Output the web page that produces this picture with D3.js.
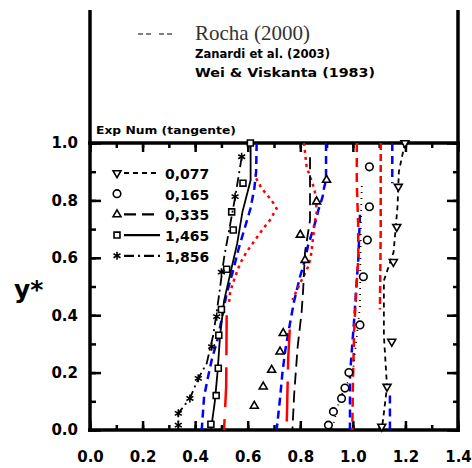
<!DOCTYPE html>
<html>
<head>
<meta charset="utf-8">
<script src="https://cdn.jsdelivr.net/npm/d3@7"></script>
<style>
body { margin: 0; background: #fff; }
text { font-family: "DejaVu Sans", sans-serif; font-weight: bold; }
</style>
</head>
<body>
<script>
// tick labels
const xTicks = [0, 0.2, 0.4, 0.6, 0.8, 1.0, 1.2, 1.4];
const yTicks = [0, 0.2, 0.4, 0.6, 0.8, 1.0];

// blue dashed profiles
const blueA = [[0.634,1.0],[0.632,0.9],[0.625,0.84],[0.61,0.77],[0.59,0.708],[0.564,0.627],[0.545,0.557],[0.52,0.476],[0.488,0.325],[0.463,0.244],[0.448,0.18],[0.434,0.116],[0.425,0.0]];
const blueB = [[0.898,1.0],[0.898,0.871],[0.89,0.842],[0.885,0.813],[0.869,0.767],[0.861,0.737],[0.846,0.69],[0.83,0.645],[0.818,0.592],[0.799,0.534],[0.79,0.5],[0.776,0.447],[0.761,0.372],[0.742,0.273],[0.732,0.198],[0.723,0.11],[0.71,0.0]];
const blueC = [[1.027,0.75],[1.021,0.6],[1.012,0.48],[1.006,0.397],[0.998,0.3],[0.989,0.19],[0.989,0.0]];
const blueD = [[1.15,1.0],[1.15,0.86],null,[1.141,0.12],[1.141,0.0]];

// red profiles (dotted top part, long dash lower part)
const redAtop = [[0.632,0.877],[0.653,0.842],[0.691,0.80],[0.71,0.772],[0.685,0.732],[0.66,0.703],[0.628,0.662],[0.596,0.621],[0.571,0.58],[0.552,0.534],[0.533,0.48],[0.529,0.44]];
const redAlow = [[0.52,0.40],[0.518,0.15],[0.51,0.0]];
const redBtop = [[0.814,1.0],[0.824,0.917],[0.837,0.883],[0.853,0.842],[0.86,0.807],[0.862,0.755],[0.853,0.714],[0.85,0.679],[0.84,0.604],[0.83,0.569],[0.799,0.511],[0.77,0.453]];
const redBlow = [[0.76,0.35],[0.754,0.25],[0.748,0.0]];
const redC = [[1.015,1.0],[1.015,0.86],[1.02,0.72],[1.021,0.6],[1.015,0.52],[1.005,0.35],[1.0,0.15],[0.998,0.0]];
const redD = [[1.106,1.0],[1.106,0.7],[1.103,0.42]];

// black series, lines and markers
const s1Line = [[1.198,1.0],[1.175,0.9],[1.17,0.78],[1.155,0.62],[1.118,0.52],[1.118,0.33],[1.13,0.15],[1.11,0.0]];
const s1Pts = [[1.198,1.0],[1.173,0.848],[1.167,0.708],[1.154,0.586],[1.148,0.308],[1.13,0.151],[1.11,0.012]];
const s2Line = [[1.034,0.85],[1.03,0.7],[1.027,0.43],[1.0,0.2],[0.97,0.145],[0.951,0.11],[0.92,0.0]];
const s2Pts = [[1.063,0.917],[1.063,0.778],[1.055,0.662],[1.04,0.534],[1.027,0.366],[0.985,0.2],[0.97,0.146],[0.957,0.11],[0.926,0.064],[0.907,0.017]];
const s3Line = [[0.837,0.95],[0.837,0.73],[0.818,0.62],[0.811,0.49],[0.805,0.41],[0.79,0.29],[0.777,0.128],[0.77,0.0]];
const s3Pts = [[0.9,0.871],[0.862,0.796],[0.80,0.68],[0.818,0.592],[0.735,0.337],[0.723,0.273],[0.691,0.209],[0.659,0.151],[0.625,0.084]];
const s4Line = [[0.611,1.0],[0.611,0.87],[0.58,0.76],[0.56,0.65],[0.535,0.55],[0.51,0.45],[0.495,0.33],[0.485,0.2],[0.475,0.1],[0.46,0.0]];
const s4Pts = [[0.61,1.0],[0.582,0.86],[0.539,0.76],[0.545,0.697],[0.52,0.56],[0.5,0.42],[0.49,0.33],[0.488,0.215],[0.48,0.12],[0.46,0.02]];
const s5Line = [[0.577,0.95],[0.552,0.81],[0.53,0.7],[0.51,0.6],[0.488,0.45],[0.469,0.331],[0.444,0.232],[0.412,0.18],[0.38,0.11],[0.336,0.058],[0.336,0.0]];
const s5Pts = [[0.577,0.952],[0.552,0.813],[0.5,0.55],[0.482,0.395],[0.463,0.29],[0.412,0.18],[0.38,0.11],[0.336,0.058],[0.336,0.017]];

// legend
const legendVals = ["0,077", "0,165", "0,335", "1,465", "1,856"];
const refNames = ["Rocha (2000)", "Zanardi et al. (2003)", "Wei & Viskanta (1983)"];

const width = 472, height = 468;

const svg = d3.select("body")
.append("svg")
.attr("width", width)
.attr("height", height);

const x = d3.scaleLinear().domain([0, 1.4]).range([90, 458]);
const y = d3.scaleLinear().domain([0, 1]).range([430, 143]);

const line = d3.line()
.defined(d => d != null)
.x(d => x(d[0]))
.y(d => y(d[1]));

///axes
const minorX = d3.range(0, 15).map(i => i / 10);
const minorY = d3.range(0, 11).map(i => i / 10);

svg.append("g")
.attr("transform", `translate(0,${y(0)})`)
.call(d3.axisBottom(x).tickValues(minorX).tickSize(-5).tickFormat(""));
svg.append("g")
.attr("class", "xax")
.attr("transform", `translate(0,${y(0)})`)
.call(d3.axisBottom(x).tickValues(xTicks).tickSize(-9).tickPadding(21).tickFormat(d3.format(".1f")));
svg.append("g")
.attr("transform", `translate(0,${y(1)})`)
.call(d3.axisBottom(x).tickValues(minorX).tickSize(5).tickFormat(""));
svg.append("g")
.attr("transform", `translate(0,${y(1)})`)
.call(d3.axisBottom(x).tickValues(xTicks).tickSize(9).tickFormat(""));
svg.append("g")
.attr("transform", `translate(${x(0)},0)`)
.call(d3.axisRight(y).tickValues(minorY).tickSize(6).tickFormat(""));
svg.append("g")
.attr("class", "yax")
.attr("transform", `translate(${x(0)},0)`)
.call(d3.axisLeft(y).tickValues(yTicks).tickSize(-11).tickPadding(12).tickFormat(d3.format(".1f")));
svg.append("g")
.attr("transform", `translate(${x(1.4)},0)`)
.call(d3.axisLeft(y).tickValues(minorY).tickSize(5).tickFormat(""));
svg.append("g")
.attr("transform", `translate(${x(1.4)},0)`)
.call(d3.axisLeft(y).tickValues(yTicks).tickSize(11).tickFormat(""));

svg.selectAll(".domain").remove();
svg.selectAll(".tick line").attr("stroke", "#000").attr("stroke-width", 2.5);
svg.selectAll(".xax text, .yax text")
.attr("fill", "#000")
.style("font-size", "15px")
.style("font-family", "DejaVu Sans")
.style("font-weight", "bold");

// frame: sides run up past 1.0 to hold the legend
const frame = svg.append("g").attr("stroke", "#000").attr("stroke-width", 3.5);
frame.append("line").attr("x1", x(0)).attr("x2", x(0)).attr("y1", 10).attr("y2", y(0) + 2);
frame.append("line").attr("x1", x(1.4)).attr("x2", x(1.4)).attr("y1", 10).attr("y2", y(0) + 2);
frame.append("line").attr("x1", x(0) - 2).attr("x2", x(1.4) + 2).attr("y1", y(0)).attr("y2", y(0));
frame.append("line").attr("x1", x(0) - 2).attr("x2", x(1.4) + 2).attr("y1", y(1)).attr("y2", y(1));

svg.append("text")
.attr("x", 14)
.attr("y", 298)
.style("font-size", "25px")
.text("y*");

///model curves
const curves = [
  {d: blueA, c: "#0000ff", dash: "8,5", w: 2.5},
  {d: blueB, c: "#0000ff", dash: "8,5", w: 2.5},
  {d: blueC, c: "#0000ff", dash: "8,5", w: 2.5},
  {d: blueD, c: "#0000ff", dash: "8,5", w: 2.5},
  {d: redAtop, c: "#ff0000", dash: "3,4", w: 2.5},
  {d: redAlow, c: "#ff0000", dash: "40,12", w: 2.5},
  {d: redBtop, c: "#ff0000", dash: "3,4", w: 2.5},
  {d: redBlow, c: "#ff0000", dash: "40,12", w: 2.5},
  {d: redC, c: "#ff0000", dash: "9,6", w: 2.5},
  {d: redD, c: "#ff0000", dash: "7,4", w: 2.5}
];

svg.selectAll("path.curve")
.data(curves)
.enter()
.append("path")
.attr("class", "curve")
.attr("d", c => line(c.d))
.attr("fill", "none")
.attr("stroke", c => c.c)
.attr("stroke-width", c => c.w)
.attr("stroke-dasharray", c => c.dash);

///black series
const sym = d3.symbolAsterisk || d3.symbolCross;
const series = [
  {line: s1Line, pts: s1Pts, dash: "5,4", shape: d3.symbolTriangle2, rot: 180},
  {line: s2Line, pts: s2Pts, dash: "1,5", shape: d3.symbolCircle, rot: 0},
  {line: s3Line, pts: s3Pts, dash: "12,6", shape: d3.symbolTriangle2, rot: 0},
  {line: s4Line, pts: s4Pts, dash: null, shape: d3.symbolSquare2, rot: 0},
  {line: s5Line, pts: s5Pts, dash: "10,4,2,4", shape: sym, rot: 0}
];

series.forEach(s => {
  svg.append("path")
  .attr("d", line(s.line))
  .attr("fill", "none")
  .attr("stroke", "#000")
  .attr("stroke-width", 1.8)
  .attr("stroke-dasharray", s.dash);

  svg.selectAll(null)
  .data(s.pts)
  .enter()
  .append("path")
  .attr("d", d3.symbol().type(s.shape).size(45))
  .attr("transform", d => `translate(${x(d[0])},${y(d[1])}) rotate(${s.rot})`)
  .attr("fill", "#fff")
  .attr("stroke", "#000")
  .attr("stroke-width", 1.6);
});

///legend
svg.append("line")
.attr("x1", 138).attr("x2", 174)
.attr("y1", 34).attr("y2", 34)
.attr("stroke", "#555")
.attr("stroke-width", 1.5)
.attr("stroke-dasharray", "5,3,5,8");

svg.append("text")
.attr("x", 195)
.attr("y", 40)
.style("font-family", "Liberation Serif")
.style("font-weight", "normal")
.style("font-size", "21px")
.attr("fill", "#333")
.text(refNames[0]);

svg.selectAll("text.ref")
.data(refNames.slice(1))
.enter()
.append("text")
.attr("class", "ref")
.attr("x", 195)
.attr("y", (d, i) => 58 + i * 19)
.attr("textLength", (d, i) => i ? 180 : 135)
.attr("lengthAdjust", "spacingAndGlyphs")
.style("font-size", "12px")
.text(d => d);

svg.append("text")
.attr("x", 96)
.attr("y", 134)
.attr("textLength", 140)
.attr("lengthAdjust", "spacingAndGlyphs")
.style("font-size", "10px")
.text("Exp Num (tangente)");

legendVals.forEach((v, i) => {
  const ly = 173 + i * 20.7;
  const s = series[i];
  svg.append("path")
  .attr("d", d3.symbol().type(s.shape).size(45))
  .attr("transform", `translate(117,${ly}) rotate(${s.rot})`)
  .attr("fill", "#fff")
  .attr("stroke", "#000")
  .attr("stroke-width", 1.6);
  if (i !== 1) {
    svg.append("line")
    .attr("x1", 124).attr("x2", 160)
    .attr("y1", ly).attr("y2", ly)
    .attr("stroke", "#000")
    .attr("stroke-width", 2.2)
    .attr("stroke-dasharray", s.dash);
  }
  svg.append("text")
  .attr("x", 165)
  .attr("y", ly + 6)
  .style("font-size", "14px")
  .text(v);
});
</script>
</body>
</html>
